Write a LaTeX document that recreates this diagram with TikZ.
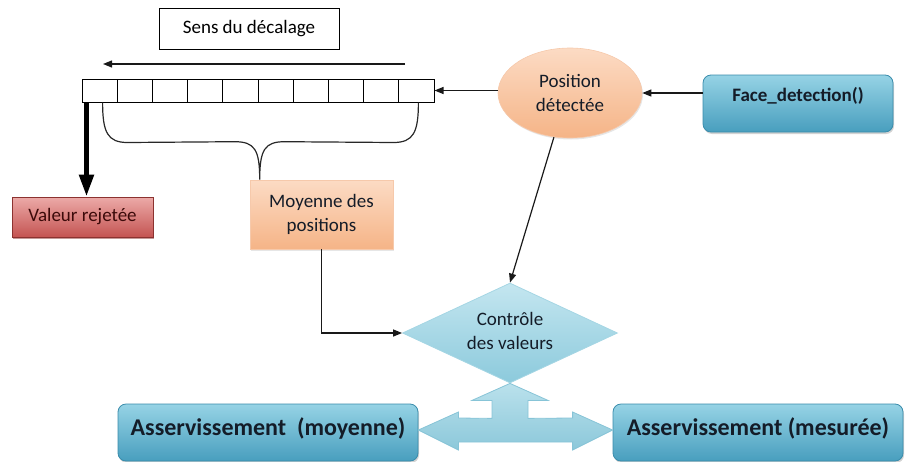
\documentclass[tikz,border=0pt]{standalone}
\usepackage{fontspec}
\setmainfont{Carlito}
\usetikzlibrary{shapes.geometric,arrows.meta,shadows,calc}

% palette
\definecolor{bluetop}{RGB}{150,211,229}
\definecolor{bluemid}{RGB}{96,179,206}
\definecolor{bluebot}{RGB}{72,158,190}
\definecolor{blueedge}{RGB}{58,140,171}
\definecolor{lbtop}{RGB}{196,230,240}
\definecolor{lbbot}{RGB}{140,202,220}
\definecolor{lbedge}{RGB}{165,214,228}
\definecolor{tritop}{RGB}{186,225,236}
\definecolor{trimid}{RGB}{214,237,244}
\definecolor{tribot}{RGB}{140,200,218}
\definecolor{triedge}{RGB}{135,196,215}
\definecolor{ortop}{RGB}{252,219,196}
\definecolor{orbot}{RGB}{245,180,135}
\definecolor{oredge}{RGB}{240,165,115}
\definecolor{redtop}{RGB}{236,170,168}
\definecolor{redmid}{RGB}{214,110,108}
\definecolor{redbot}{RGB}{196,84,82}
\definecolor{rededge}{RGB}{140,50,48}
\definecolor{ink}{RGB}{20,28,40}

\begin{document}
\begin{tikzpicture}[x=1pt,y=-1pt,
  txt/.style={font=\fontsize{19}{24}\selectfont, align=center, inner sep=0pt},
  plainbox/.style={txt, draw=black, line width=1pt, fill=white},
  cellbox/.style={draw=black, line width=1pt, fill=white, minimum width=35.2pt, minimum height=23pt, inner sep=0pt},
  bluebox/.style={txt, font=\fontsize{19}{24}\selectfont\bfseries, text=ink,
    rounded corners=8pt, draw=blueedge, line width=0.8pt,
    top color=bluetop, middle color=bluemid, bottom color=bluebot,
    drop shadow={shadow xshift=1pt, shadow yshift=-2pt, opacity=0.35}},
  bigbluebox/.style={bluebox, font=\fontsize{24}{28}\selectfont\bfseries},
  redbox/.style={txt, text={rgb,255:red,60;green,10;blue,10}, draw=rededge, line width=0.8pt,
    top color=redtop, middle color=redmid, bottom color=redbot,
    drop shadow={shadow xshift=1pt, shadow yshift=-2pt, opacity=0.5, fill=rededge}},
  orbox/.style={txt, text=ink, draw=oredge!60, line width=0.6pt,
    top color=ortop, bottom color=orbot,
    drop shadow={shadow xshift=1pt, shadow yshift=-1.5pt, opacity=0.2}},
  arr/.style={draw={rgb,255:red,25;green,25;blue,25}, line width=1.2pt, -{Triangle[length=9pt,width=7pt]}},
  bigarr/.style={draw=black, line width=5pt, -{Triangle[length=22pt,width=14pt]}},
  bracestyle/.style={draw={rgb,255:red,40;green,40;blue,40}, line width=1.2pt},
  triarrow/.style={draw=triedge, line width=0.8pt, top color=tritop, middle color=trimid, bottom color=tribot}
]
\useasboundingbox (0,0) rectangle (913,461);

% title of the shift direction
\node[plainbox, minimum width=180pt, minimum height=41pt] (sens) at (249,28.5) {Sens du décalage};

% ten-slot shift buffer
\foreach \i in {1,...,10}
  \node[cellbox] (cell\i) at ({82+35.2*(\i-0.5)},90.5) {};

% shift direction arrow
\coordinate (shA) at (405,64);
\coordinate (shB) at (103,64);
\draw[arr] (shA) -- (shB);

% detected position and detector
\node[ellipse, orbox, minimum width=144pt, minimum height=90pt] (pos) at (570,93) {Position\\détectée};
\node[bluebox, minimum width=190pt, minimum height=57pt] (face) at (798,103.5) {\raisebox{2.5pt}[0pt][0pt]{Face\_detection()}};

\draw[arr] (face.west |- pos.east) -- (pos.east);
\draw[arr] (pos.west |- cell10.east) -- (cell10.east);

% rejected value
\node[redbox, minimum width=141pt, minimum height=40pt] (rej) at (82.5,217) {Valeur rejetée};
\draw[bigarr] ([xshift=4pt]rej.north |- cell1.south) -- ([xshift=4pt]rej.north);

% mean of positions
\node[orbox, minimum width=143pt, minimum height=69pt] (moy) at (321.5,214.5) {\raisebox{3pt}{\begin{tabular}{@{}c@{}}Moyenne des\\positions\end{tabular}}};

% brace grouping the buffer slots
\coordinate (bl) at ([xshift=3pt]cell1.south);
\coordinate (br) at ([xshift=2pt]cell10.south);
\coordinate (bt) at ([xshift=10pt]moy.north west);
\draw[bracestyle]
  (bl) .. controls ($(bl)+(0,30)$) and ($(bl)+(5,40)$) .. ($(bl)+(25,40)$)
  -- ($(bt)+(-25,-38)$) .. controls ($(bt)+(-5,-38)$) and ($(bt)+(0,-30)$) .. (bt)
  .. controls ($(bt)+(0,-30)$) and ($(bt)+(5,-38)$) .. ($(bt)+(25,-38)$)
  -- ($(br)+(-25,40)$) .. controls ($(br)+(-5,40)$) and ($(br)+(0,30)$) .. (br);

% value check
\node[diamond, txt, text=ink, draw=lbedge, line width=0.8pt, top color=lbtop, bottom color=lbbot,
      minimum width=215pt, minimum height=100pt, aspect=2.15] (ctl) at (510,333) {\raisebox{-2pt}{\begin{tabular}{@{}c@{}}Contrôle\\des valeurs\end{tabular}}};

\draw[arr] (moy.south) |- (ctl.west);
\draw[arr] (pos.-110) -- (ctl.north);

% servo outputs
\node[bigbluebox, minimum width=300pt, minimum height=57pt] (amoy) at (268,432.5) {\raisebox{-2.5pt}[0pt][0pt]{Asservissement~ (moyenne)}};
\node[bigbluebox, minimum width=290pt, minimum height=57pt] (ames) at (758,432.5) {\raisebox{-2.5pt}[0pt][0pt]{Asservissement (mesurée)}};

% three-way block arrow
\coordinate (t) at (ctl.south);
\draw[triarrow] (t)
  -- ++(38,17) -- ++(-20,0) -- ++(0,18)
  -- ($(ames.west)+(-40,-14.5)$) -- ++(0,-6) -- ($(ames.west)+(0,-2.5)$)
  -- ($(ames.west)+(-40,17.5)$) -- ++(0,-8)
  -- ($(amoy.east)+(40,9.5)$) -- ++(0,8) -- ($(amoy.east)+(0,-2.5)$)
  -- ($(amoy.east)+(40,-20.5)$) -- ++(0,6)
  -- ($(t)+(-18,35)$) -- ++(0,-18) -- ++(-20,0) -- cycle;
\end{tikzpicture}
\end{document}
